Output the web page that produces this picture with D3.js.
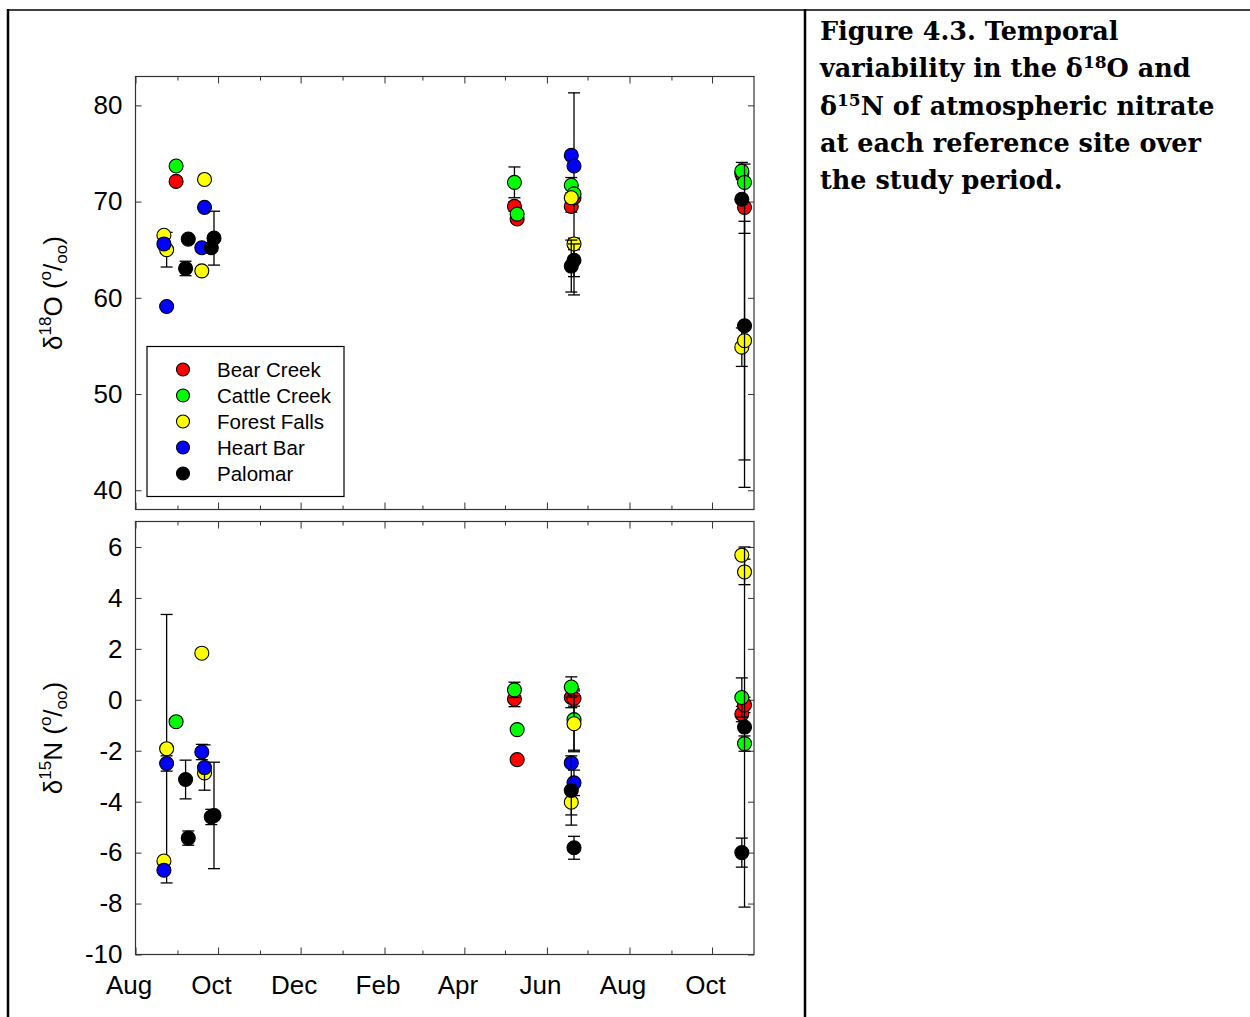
<!DOCTYPE html>
<html>
<head>
<meta charset="utf-8">
<script src="https://cdn.jsdelivr.net/npm/d3@7"></script>
<style>
  html, body { margin: 0; padding: 0; background: #fff; }
  svg { display: block; }
</style>
</head>
<body>
<svg id="chart" width="1250" height="1017"></svg>
<script>
// ---------- DATA ----------
const sites = ["Bear Creek", "Cattle Creek", "Forest Falls", "Heart Bar", "Palomar"];
const siteColors = ["#ff0000", "#00ff00", "#ffff00", "#0000ff", "#000000"];

// rows: [date, d18O, d18O error, d15N, d15N error]
const bearCreek = [
  ["2010-08-31", 72.1, 0, null, 0],
  ["2011-05-08", 69.5, 0.5, 0.03, 0.3],
  ["2011-05-10", 68.2, 0.4, -2.35, 0],
  ["2011-06-19", 69.5, 0.6, 0.09, 0.4],
  ["2011-06-21", 70.4, 0, 0.05, 0.3],
  ["2011-10-23", 72.9, 0.5, -0.56, 0.3],
  ["2011-10-25", 69.4, 2.7, -0.2, 0.3]
];
const cattleCreek = [
  ["2010-08-31", 73.7, 0, -0.86, 0],
  ["2011-05-08", 72.0, 1.6, 0.39, 0.3],
  ["2011-05-10", 68.7, 0, -1.17, 0],
  ["2011-06-19", 71.7, 0.8, 0.5, 0.4],
  ["2011-06-21", 70.8, 10.5, -0.78, 1.2],
  ["2011-10-23", 73.17, 0.9, 0.09, 0.77],
  ["2011-10-25", 72.0, 0, -1.72, 0.3]
];
const forestFalls = [
  ["2010-08-22", 66.5, 0, -6.33, 0],
  ["2010-08-24", 65.0, 1.8, -1.92, 5.27],
  ["2010-09-19", 62.8, 0, 1.83, 0],
  ["2010-09-21", 72.3, 0, -2.87, 0],
  ["2011-06-19", 70.4, 0, -4.02, 0.5],
  ["2011-06-21", 65.6, 0.6, -0.94, 1.1],
  ["2011-10-23", 54.87, 2.0, 5.68, 0],
  ["2011-10-25", 55.55, 12.4, 5.02, 0.5]
];
const heartBar = [
  ["2010-08-22", 65.6, 0.5, -6.69, 0],
  ["2010-08-24", 59.1, 0, -2.5, 0.3],
  ["2010-09-19", 65.2, 0.4, -2.05, 0.3],
  ["2010-09-21", 69.4, 0, -2.66, 0.89],
  ["2011-06-19", 74.8, 0, -2.48, 0],
  ["2011-06-21", 73.7, 0, -3.26, 0.5]
];
const palomar = [
  ["2010-09-07", 63.05, 0.75, -3.13, 0.76],
  ["2010-09-09", 66.1, 0, -5.43, 0.28],
  ["2010-09-26", 65.2, 0, -4.6, 0.3],
  ["2010-09-28", 66.2, 2.8, -4.54, 2.09],
  ["2011-06-19", 63.3, 2.7, -3.56, 1.36],
  ["2011-06-21", 63.9, 1.7, -5.81, 0.45],
  ["2011-10-23", 70.24, 0, -6.0, 0.57],
  ["2011-10-25", 57.1, 16.8, -1.07, 7.07]
];
const siteData = [bearCreek, cattleCreek, forestFalls, heartBar, palomar];

const xStart = "2010-08-01", xEnd = "2011-11-01";
const monthLabels = ["Aug", "Oct", "Dec", "Feb", "Apr", "Jun", "Aug", "Oct"];
const yTicksO = [40, 50, 60, 70, 80];
const yDomainO = [38, 83];
const yTicksN = [-10, -8, -6, -4, -2, 0, 2, 4, 6];
const yDomainN = [-10, 7];
const captionLines = [
  [["Figure 4.3. Temporal", 0]],
  [["variability in the δ", 0], ["18", 1], ["O and", 0]],
  [["δ", 0], ["15", 1], ["N of atmospheric nitrate", 0]],
  [["at each reference site over", 0]],
  [["the study period.", 0]]
];

// ---------- DRAW ----------
const svg = d3.select("#chart");
const parse = d3.timeParse("%Y-%m-%d");
const FONT = "'Liberation Sans', Arial, sans-serif";
const axisColor = "#333";

// page frame (table borders)
svg.append("line").attr("x1", 8).attr("x2", 1250).attr("y1", 10).attr("y2", 10)
  .attr("stroke", "#000").attr("stroke-width", 1.5);
svg.append("line").attr("x1", 8).attr("x2", 8).attr("y1", 9).attr("y2", 1017)
  .attr("stroke", "#000").attr("stroke-width", 2.5);
svg.append("line").attr("x1", 805).attr("x2", 805).attr("y1", 9).attr("y2", 1017)
  .attr("stroke", "#000").attr("stroke-width", 2.5);

const L = 135.5, R = 754;
const x = d3.scaleTime().domain([parse(xStart), parse(xEnd)]).range([L, R]);

const panels = [
  { top: 76.5, bottom: 509.5, domain: yDomainO, ticks: yTicksO, idx: 1, title: ["δ", "18", "O"] },
  { top: 521.5, bottom: 954.5, domain: yDomainN, ticks: yTicksN, idx: 3, title: ["δ", "15", "N"] }
];

const monthsAll = d3.timeMonth.range(parse(xStart), parse(xEnd));
const majorMonths = monthsAll.filter(d => d.getMonth() % 2 === 1);
const minorMonths = monthsAll.filter(d => d.getMonth() % 2 === 0);

panels.forEach((p, pi) => {
  const y = d3.scaleLinear().domain(p.domain).range([p.bottom, p.top]);
  const g = svg.append("g");

  const left = g.append("g").attr("transform", `translate(${L},0)`)
    .call(d3.axisLeft(y).tickValues(p.ticks).tickSizeInner(-6).tickSizeOuter(0).tickPadding(13).tickFormat(d => String(d)));
  const right = g.append("g").attr("transform", `translate(${R},0)`)
    .call(d3.axisRight(y).tickValues(p.ticks).tickSizeInner(-6).tickSizeOuter(0).tickFormat(""));
  const bottomMaj = g.append("g").attr("transform", `translate(0,${p.bottom})`)
    .call(d3.axisBottom(x).tickValues(majorMonths).tickSizeInner(-7).tickSizeOuter(0).tickPadding(21)
      .tickFormat((d, i) => pi === 1 ? monthLabels[i] : ""));
  bottomMaj.selectAll(".tick text").attr("dx", -7);
  const bottomMin = g.append("g").attr("transform", `translate(0,${p.bottom})`)
    .call(d3.axisBottom(x).tickValues(minorMonths).tickSizeInner(-4).tickSizeOuter(0).tickFormat(""));
  const topMaj = g.append("g").attr("transform", `translate(0,${p.top})`)
    .call(d3.axisTop(x).tickValues(majorMonths).tickSizeInner(-7).tickSizeOuter(0).tickFormat(""));
  const topMin = g.append("g").attr("transform", `translate(0,${p.top})`)
    .call(d3.axisTop(x).tickValues(minorMonths).tickSizeInner(-4).tickSizeOuter(0).tickFormat(""));

  [left, right, bottomMaj, bottomMin, topMaj, topMin].forEach(a => {
    a.select(".domain").remove();
    a.selectAll(".tick line").attr("stroke", axisColor).attr("stroke-width", 1);
    a.selectAll(".tick text").attr("font-family", FONT).attr("font-size", 26).attr("fill", "#000");
  });

  g.append("rect").attr("x", L).attr("y", p.top).attr("width", R - L).attr("height", p.bottom - p.top)
    .attr("fill", "none").attr("stroke", axisColor).attr("stroke-width", 1.2);

  const cy = (p.top + p.bottom) / 2;
  const t = g.append("text").attr("transform", `translate(62,${cy}) rotate(-90)`)
    .attr("text-anchor", "middle").attr("font-family", FONT).attr("font-size", 26).attr("fill", "#000");
  t.append("tspan").text(p.title[0]);
  t.append("tspan").attr("font-size", 17).attr("dy", -11).text(p.title[1]);
  t.append("tspan").attr("dy", 11).text(p.title[2] + " (");
  t.append("tspan").attr("font-size", 17).attr("dy", -11).text("o");
  t.append("tspan").attr("dy", 11).text("/");
  t.append("tspan").attr("font-size", 17).attr("dy", 5).text("oo");
  t.append("tspan").attr("dy", -5).text(")");

  siteData.forEach((rows, si) => {
    const pts = rows.filter(r => r[p.idx] !== null);
    const sg = g.append("g");
    pts.filter(r => r[p.idx + 1] > 0).forEach(r => {
      const cx = x(parse(r[0]));
      const y1 = y(r[p.idx] + r[p.idx + 1]), y2 = y(r[p.idx] - r[p.idx + 1]);
      sg.append("line").attr("x1", cx).attr("x2", cx).attr("y1", y1).attr("y2", y2)
        .attr("stroke", "#000").attr("stroke-width", 1.3);
      [y1, y2].forEach(yy => sg.append("line").attr("x1", cx - 6).attr("x2", cx + 6).attr("y1", yy).attr("y2", yy)
        .attr("stroke", "#000").attr("stroke-width", 1.3));
    });
    sg.selectAll("circle").data(pts).join("circle")
      .attr("cx", r => x(parse(r[0])))
      .attr("cy", r => y(r[p.idx]))
      .attr("r", 7)
      .attr("fill", siteColors[si])
      .attr("stroke", "#000").attr("stroke-width", 1.1);
  });
});

// legend
const lg = svg.append("g");
lg.append("rect").attr("x", 147).attr("y", 346.5).attr("width", 197).attr("height", 150)
  .attr("fill", "#fff").attr("stroke", "#000").attr("stroke-width", 1.2);
sites.forEach((s, i) => {
  const yy = 369.5 + i * 26;
  lg.append("circle").attr("cx", 183).attr("cy", yy).attr("r", 6.5)
    .attr("fill", siteColors[i]).attr("stroke", "#000").attr("stroke-width", 1.1);
  lg.append("text").attr("x", 217).attr("y", yy + 7).attr("font-family", FONT).attr("font-size", 20.5)
    .attr("fill", "#000").text(s);
});

// caption
const cap = svg.append("g");
captionLines.forEach((parts, li) => {
  const tx = cap.append("text").attr("x", 820).attr("y", 40 + li * 37.3)
    .attr("font-family", "'DejaVu Serif', serif").attr("font-weight", "bold")
    .attr("font-size", 25.5).attr("fill", "#000");
  let raised = false;
  parts.forEach(([s, sup]) => {
    const ts = tx.append("tspan").text(s);
    if (sup) { ts.attr("font-size", 17).attr("dy", -9); raised = true; }
    else if (raised) { ts.attr("dy", 9); raised = false; }
  });
});
</script>
</body>
</html>
